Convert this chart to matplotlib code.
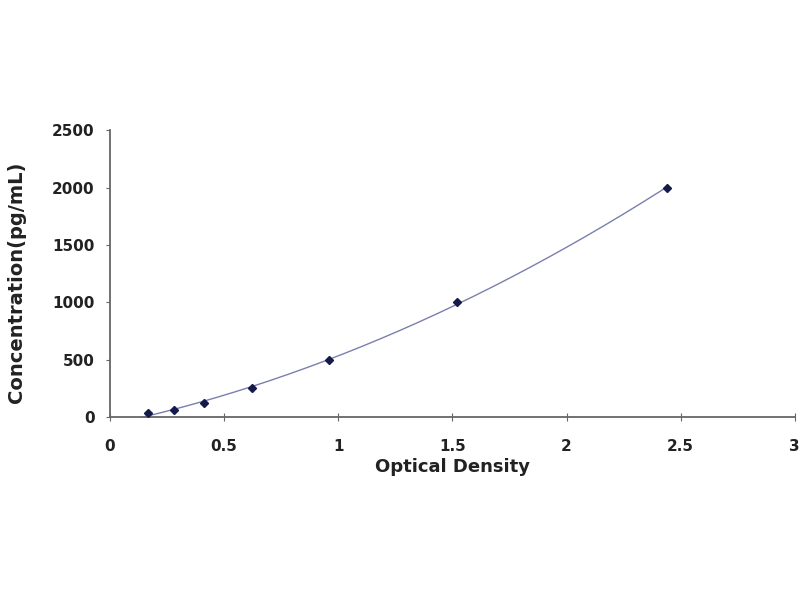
import numpy as np
import matplotlib.pyplot as plt

# standard curve readings
od = [0.167, 0.28, 0.41, 0.62, 0.96, 1.52, 2.44]
conc = [31.25, 62.5, 125, 250, 500, 1000, 2000]

x_ticks = [0, 0.5, 1, 1.5, 2, 2.5, 3]
x_tick_labels = ["0", "0.5", "1", "1.5", "2", "2.5", "3"]
y_ticks = [0, 500, 1000, 1500, 2000, 2500]

plt.rcParams["font.family"] = ["DejaVu Sans"]
plt.rcParams["font.weight"] = "bold"

fig = plt.figure(figsize=(8, 6), dpi=100)
ax = fig.add_axes([0.1375, 0.305, 0.856, 0.478])

# fitted curve through the standards
coef = np.polyfit(od, conc, 2)
xs = np.linspace(min(od) - 0.03, max(od), 200)
ax.plot(xs, np.polyval(coef, xs), color="#7a7fb0", lw=1.0, zorder=2)
ax.plot(od, conc, "D", color="#141a4a", ms=4, zorder=3)

ax.set_xlim(0, 3)
ax.set_ylim(0, 2500)
ax.set_xticks(x_ticks)
ax.set_xticklabels(x_tick_labels)
ax.set_yticks(y_ticks)

for s in ["top", "right"]:
    ax.spines[s].set_visible(False)
for s in ["left", "bottom"]:
    ax.spines[s].set_color("#666666")
    ax.spines[s].set_linewidth(1.3)

ax.tick_params(axis="x", direction="inout", length=6, color="#666666",
               labelsize=11, pad=13, labelcolor="#222222")
ax.tick_params(axis="y", direction="out", length=3, color="#666666",
               labelsize=11, pad=8, labelcolor="#222222")

ax.set_xlabel("Optical Density", fontsize=13, fontweight="bold", color="#222222", labelpad=3)
ax.set_ylabel("Concentration(pg/mL)", fontsize=14, fontweight="bold", color="#222222", labelpad=20)
ax.yaxis.set_label_coords(-0.122, 0.47)

fig.savefig("out.png", dpi=100)
